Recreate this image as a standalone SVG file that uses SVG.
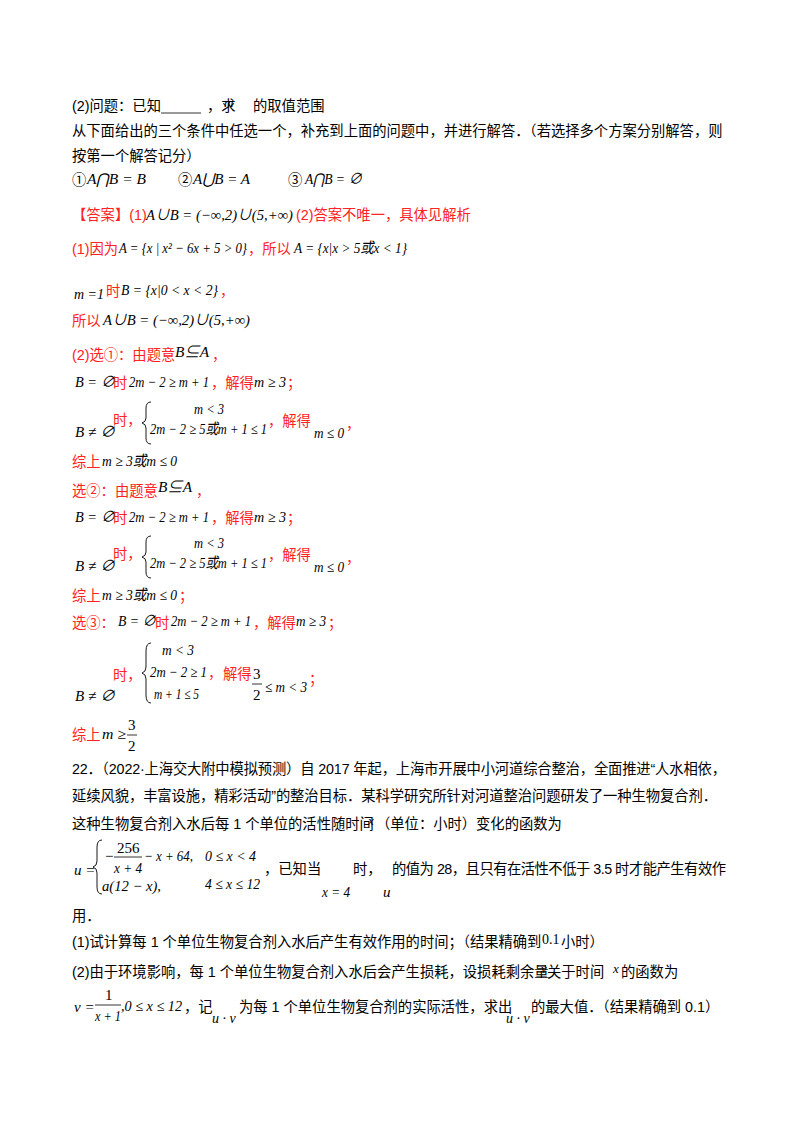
<svg xmlns="http://www.w3.org/2000/svg" width="800" height="1132" viewBox="0 0 800 1132">
<style>
text{font-family:"Liberation Sans","Noto Sans CJK SC",sans-serif;font-size:14.3px;fill:#000}
.r{fill:#f22}
.m{font-family:"Liberation Serif","Noto Sans CJK SC",serif;font-style:italic;font-size:15px;fill:#000}
.n{font-style:normal}
.br{fill:none;stroke:#000;stroke-width:0.9}
</style>
<rect width="800" height="1132" fill="#fff"/>
<g id="head">
<text x="72" y="111">(2)问题：已知</text>
<line x1="161" y1="113" x2="201" y2="113" stroke="#000" stroke-width="0.8"/>
<text x="207" y="111">，求</text>
<text x="224" y="107" class="m" style="font-size:13px">m</text>
<text x="253" y="111">的取值范围</text>
<text x="72" y="136">从下面给出的三个条件中任选一个，补充到上面的问题中，并进行解答．（若选择多个方案分别解答，则</text>
<text x="72" y="161">按第一个解答记分）</text>
<text x="72" y="185">①</text><text x="87" y="184" class="m" textLength="59" lengthAdjust="spacingAndGlyphs">A⋂B = B</text>
<text x="178" y="185">②</text><text x="193" y="184" class="m" textLength="57" lengthAdjust="spacingAndGlyphs">A⋃B = A</text>
<text x="288" y="185">③</text><text x="305" y="184" class="m" textLength="57" lengthAdjust="spacingAndGlyphs">A⋂B = ∅</text>
</g>
<g id="ans">
<text x="72" y="220" class="r">【答案】(1)</text>
<text x="146" y="220" class="m" textLength="147" lengthAdjust="spacingAndGlyphs">A∪B = (−∞,2)∪(5,+∞)</text>
<text x="296" y="220" class="r">(2)答案不唯一，具体见解析</text>
<text x="72" y="254" class="r">(1)因为</text>
<text x="119" y="253" class="m" textLength="128" lengthAdjust="spacingAndGlyphs">A = {x | x² − 6x + 5 &gt; 0}</text>
<text x="248" y="254" class="r">，所以</text>
<text x="294" y="253" class="m" textLength="113" lengthAdjust="spacingAndGlyphs">A = {x|x &gt; 5或x &lt; 1}</text>
<text x="74" y="299" class="m" textLength="30" lengthAdjust="spacingAndGlyphs">m =1</text>
<text x="106" y="296" class="r">时</text>
<text x="121" y="295" class="m" textLength="97" lengthAdjust="spacingAndGlyphs">B = {x|0 &lt; x &lt; 2}</text>
<text x="220" y="296" class="r">，</text>
<text x="72" y="326" class="r">所以</text>
<text x="103" y="325" class="m" textLength="147" lengthAdjust="spacingAndGlyphs">A∪B = (−∞,2)∪(5,+∞)</text>
</g>
<g id="sol1">
<text x="72" y="360" class="r">(2)选①：由题意</text>
<text x="175" y="357" class="m" textLength="34" lengthAdjust="spacingAndGlyphs">B⊆A</text>
<text x="212" y="360" class="r">，</text>
<text x="75" y="387" class="m" textLength="40" lengthAdjust="spacingAndGlyphs">B = ∅</text>
<text x="113" y="388" class="r">时</text>
<text x="129" y="387" class="m" textLength="80" lengthAdjust="spacingAndGlyphs">2m − 2 ≥ m + 1</text>
<text x="211" y="388" class="r">，解得</text>
<text x="254" y="387" class="m" textLength="32" lengthAdjust="spacingAndGlyphs">m ≥ 3</text>
<text x="287" y="388" class="r">；</text>
<text x="75" y="437" class="m" textLength="40" lengthAdjust="spacingAndGlyphs">B ≠ ∅</text>
<text x="113" y="425" class="r">时，</text>
<path class="br" d="M151,402 q-5,0 -5,6 v10 q0,4 -4,5 q4,1 4,5 v10 q0,6 5,6"/>
<text x="194" y="414" class="m" textLength="30" lengthAdjust="spacingAndGlyphs">m &lt; 3</text>
<text x="150" y="434" class="m" textLength="117" lengthAdjust="spacingAndGlyphs">2m − 2 ≥ 5或m + 1 ≤ 1</text>
<text x="268" y="426" class="r">，解得</text>
<text x="314" y="438" class="m" textLength="30" lengthAdjust="spacingAndGlyphs">m ≤ 0</text>
<text x="346" y="429" class="r">，</text>
<text x="72" y="467" class="r">综上</text>
<text x="102" y="466" class="m" textLength="75" lengthAdjust="spacingAndGlyphs">m ≥ 3或m ≤ 0</text>
</g>
<g id="sol2">
<text x="72" y="496" class="r">选②：由题意</text>
<text x="158" y="492" class="m" textLength="34" lengthAdjust="spacingAndGlyphs">B⊆A</text>
<text x="196" y="496" class="r">，</text>
<text x="75" y="522" class="m" textLength="40" lengthAdjust="spacingAndGlyphs">B = ∅</text>
<text x="113" y="523" class="r">时</text>
<text x="129" y="522" class="m" textLength="80" lengthAdjust="spacingAndGlyphs">2m − 2 ≥ m + 1</text>
<text x="211" y="523" class="r">，解得</text>
<text x="254" y="522" class="m" textLength="32" lengthAdjust="spacingAndGlyphs">m ≥ 3</text>
<text x="287" y="523" class="r">；</text>
<text x="75" y="571" class="m" textLength="40" lengthAdjust="spacingAndGlyphs">B ≠ ∅</text>
<text x="113" y="559" class="r">时，</text>
<path class="br" d="M151,536 q-5,0 -5,6 v10 q0,4 -4,5 q4,1 4,5 v10 q0,6 5,6"/>
<text x="194" y="548" class="m" textLength="30" lengthAdjust="spacingAndGlyphs">m &lt; 3</text>
<text x="150" y="568" class="m" textLength="117" lengthAdjust="spacingAndGlyphs">2m − 2 ≥ 5或m + 1 ≤ 1</text>
<text x="268" y="560" class="r">，解得</text>
<text x="314" y="572" class="m" textLength="30" lengthAdjust="spacingAndGlyphs">m ≤ 0</text>
<text x="346" y="563" class="r">，</text>
<text x="72" y="601" class="r">综上</text>
<text x="102" y="600" class="m" textLength="75" lengthAdjust="spacingAndGlyphs">m ≥ 3或m ≤ 0</text>
<text x="179" y="601" class="r">；</text>
</g>
<g id="sol3">
<text x="72" y="628" class="r">选③：</text>
<text x="118" y="626" class="m" textLength="38" lengthAdjust="spacingAndGlyphs">B = ∅</text>
<text x="155" y="628" class="r">时</text>
<text x="171" y="626" class="m" textLength="80" lengthAdjust="spacingAndGlyphs">2m − 2 ≥ m + 1</text>
<text x="253" y="628" class="r">，解得</text>
<text x="296" y="626" class="m" textLength="30" lengthAdjust="spacingAndGlyphs">m ≥ 3</text>
<text x="328" y="628" class="r">；</text>
<text x="75" y="701" class="m" textLength="40" lengthAdjust="spacingAndGlyphs">B ≠ ∅</text>
<text x="113" y="680" class="r">时，</text>
<path class="br" d="M151,643 q-5,0 -5,8 v16 q0,5 -4,6 q4,1 4,6 v16 q0,8 5,8"/>
<text x="162" y="655" class="m" textLength="32" lengthAdjust="spacingAndGlyphs">m &lt; 3</text>
<text x="150" y="677" class="m" textLength="57" lengthAdjust="spacingAndGlyphs">2m − 2 ≥ 1</text>
<text x="208" y="678" class="r">，</text>
<text x="154" y="699" class="m" textLength="45" lengthAdjust="spacingAndGlyphs">m + 1 ≤ 5</text>
<text x="223" y="679" class="r">解得</text>
<text x="253" y="679" class="m n">3</text>
<line x1="252" y1="684" x2="262" y2="684" stroke="#000" stroke-width="0.8"/>
<text x="253" y="700" class="m n">2</text>
<text x="265" y="692" class="m" textLength="42" lengthAdjust="spacingAndGlyphs">≤ m &lt; 3</text>
<text x="309" y="684" class="r">；</text>
<text x="72" y="740" class="r">综上</text>
<text x="102" y="739" class="m" textLength="24" lengthAdjust="spacingAndGlyphs">m ≥</text>
<text x="128" y="730" class="m n">3</text>
<line x1="127" y1="735" x2="137" y2="735" stroke="#000" stroke-width="0.8"/>
<text x="128" y="751" class="m n">2</text>
</g>
<g id="q22">
<text x="72" y="774" textLength="654" lengthAdjust="spacing">22．（2022·上海交大附中模拟预测）自 2017 年起，上海市开展中小河道综合整治，全面推进“人水相依，</text>
<text x="72" y="801" textLength="645" lengthAdjust="spacing">延续风貌，丰富设施，精彩活动”的整治目标．某科学研究所针对河道整治问题研发了一种生物复合剂．</text>
<text x="72" y="829">这种生物复合剂入水后每 1 个单位的活性随时间</text>
<text x="368" y="825" class="m" style="font-size:13px">x</text>
<text x="376" y="829">（单位：小时）变化的函数为</text>
<text x="74" y="875" class="m">u =</text>
<path class="br" d="M102,840 q-5,0 -5,7 v14 q0,5 -4,6 q4,1 4,6 v14 q0,7 5,7"/>
<text x="104" y="861" class="m">−</text>
<text x="117" y="853" class="m n">256</text>
<line x1="114" y1="857" x2="142" y2="857" stroke="#000" stroke-width="0.8"/>
<text x="114" y="873" class="m" textLength="28" lengthAdjust="spacingAndGlyphs">x + 4</text>
<text x="144" y="861" class="m" textLength="49" lengthAdjust="spacingAndGlyphs">− x + 64,</text>
<text x="205" y="861" class="m" textLength="51" lengthAdjust="spacingAndGlyphs">0 ≤ x &lt; 4</text>
<text x="102" y="891" class="m" textLength="59" lengthAdjust="spacingAndGlyphs">a(12 − x),</text>
<text x="205" y="889" class="m" textLength="55" lengthAdjust="spacingAndGlyphs">4 ≤ x ≤ 12</text>
<text x="264" y="874">，已知当</text>
<text x="353" y="874">时，</text>
<text x="392" y="874" textLength="334" lengthAdjust="spacing">的值为 28，且只有在活性不低于 3.5 时才能产生有效作</text>
<text x="322" y="897" class="m" textLength="28" lengthAdjust="spacingAndGlyphs">x = 4</text>
<text x="383" y="897" class="m">u</text>
<text x="72" y="921">用．</text>
<text x="72" y="947">(1)试计算每 1 个单位生物复合剂入水后产生有效作用的时间；（结果精确到</text>
<text x="542" y="944" class="m n" style="font-size:14px">0.1</text>
<text x="561" y="947">小时）</text>
<text x="72" y="977">(2)由于环境影响，每 1 个单位生物复合剂入水后会产生损耗，设损耗剩余量</text>
<text x="541" y="973" class="m" style="font-size:13px">v</text>
<text x="547" y="977">关于时间</text>
<text x="613" y="973" class="m" style="font-size:13px">x</text>
<text x="621" y="977">的函数为</text>
<text x="74" y="1012" class="m">v =</text>
<text x="105" y="1000" class="m n">1</text>
<line x1="95" y1="1005" x2="121" y2="1005" stroke="#000" stroke-width="0.8"/>
<text x="95" y="1021" class="m" textLength="26" lengthAdjust="spacingAndGlyphs">x + 1</text>
<text x="121" y="1011" class="m" textLength="61" lengthAdjust="spacingAndGlyphs">,0 ≤ x ≤ 12</text>
<text x="184" y="1012">，记</text>
<text x="212" y="1023" class="m" style="font-size:14px">u · v</text>
<text x="239" y="1012">为每 1 个单位生物复合剂的实际活性，求出</text>
<text x="506" y="1023" class="m" style="font-size:14px">u · v</text>
<text x="531" y="1012">的最大值．（结果精确到 0.1）</text>
</g>
</svg>
